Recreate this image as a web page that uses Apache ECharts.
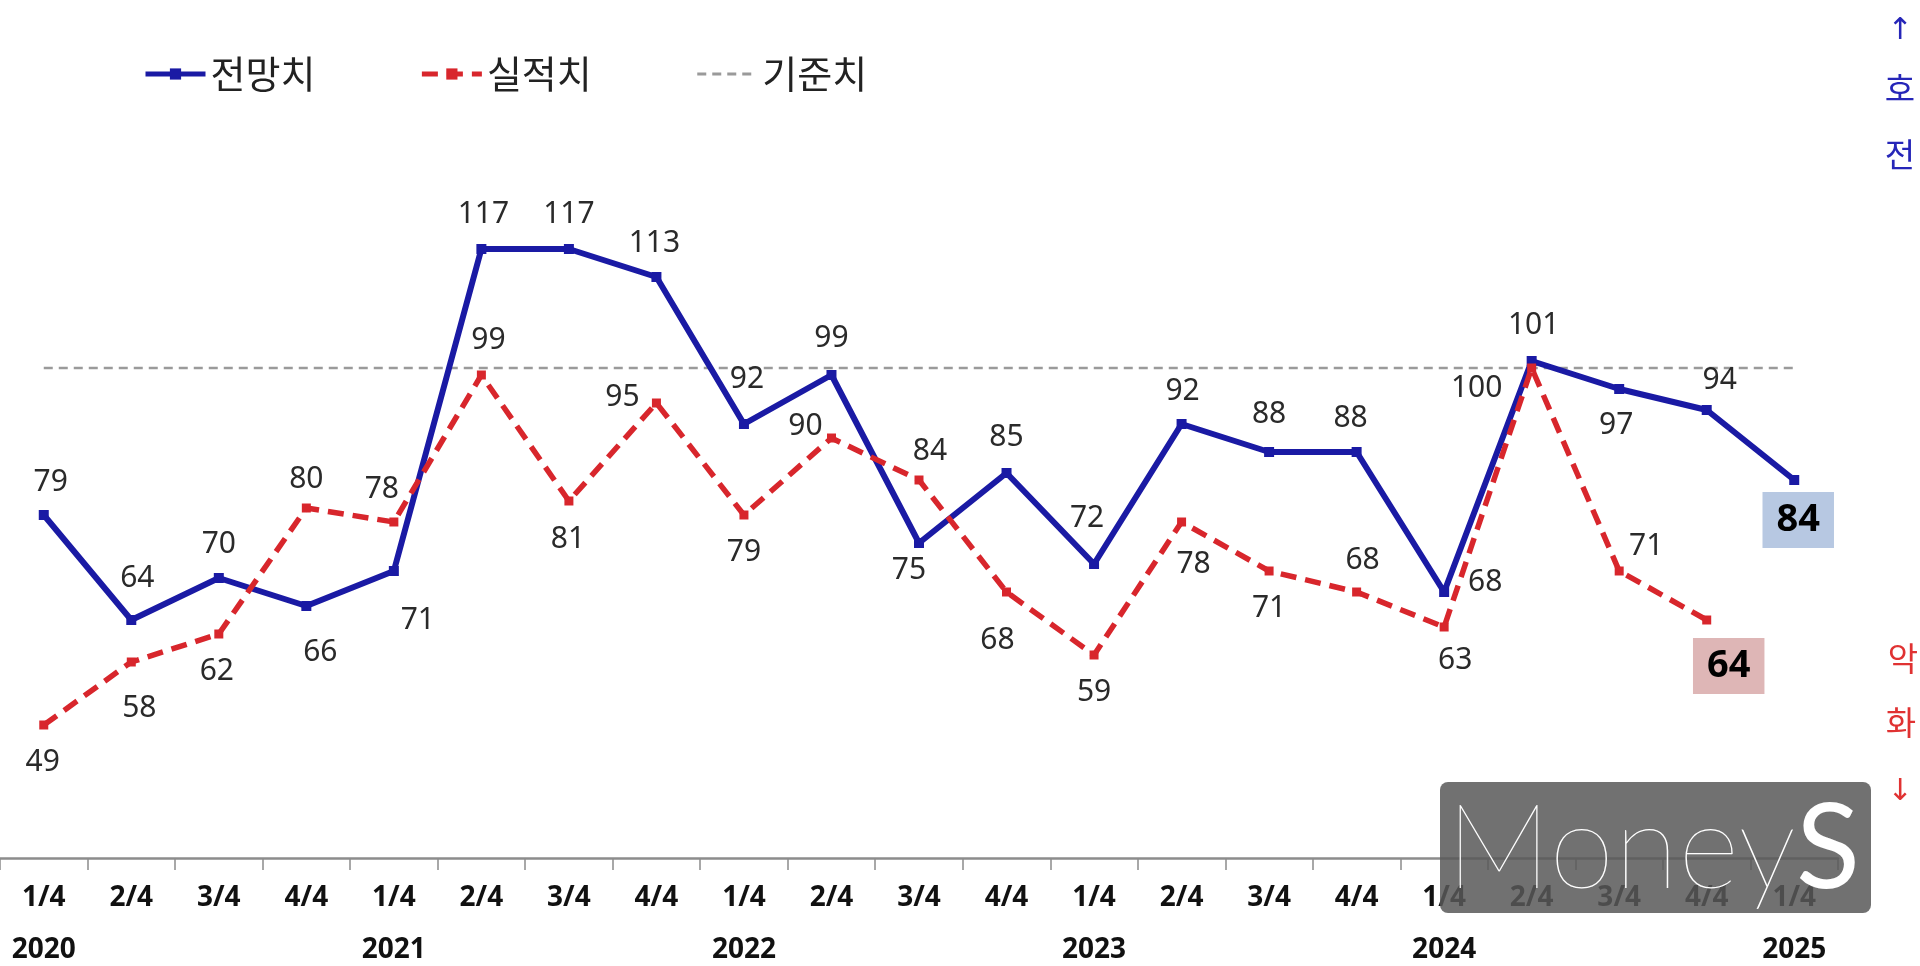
<!DOCTYPE html>
<html>
<head>
<meta charset="utf-8">
<script src="https://cdn.jsdelivr.net/npm/echarts@6/dist/echarts.min.js"></script>
<style>
html, body { margin: 0; padding: 0; background: #fff; }
#main { width: 1920px; height: 966px; }
</style>
</head>
<body>
<div id="main"></div>
<script>
// 분기 / 연도
var quarters = ['1/4', '2/4', '3/4', '4/4', '1/4', '2/4', '3/4', '4/4', '1/4', '2/4', '3/4',
    '4/4', '1/4', '2/4', '3/4', '4/4', '1/4', '2/4', '3/4', '4/4', '1/4'];
var years = ['2020', '', '', '', '2021', '', '', '', '2022', '', '', '',
    '2023', '', '', '', '2024', '', '', '', '2025'];

// 전망치 / 실적치 / 기준치
var forecast = [79, 64, 70, 66, 71, 117, 117, 113, 92, 99, 75, 85, 72, 92, 88, 88, 68, 101, 97, 94, 84];
var actual = [49, 58, 62, 80, 78, 99, 81, 95, 79, 90, 84, 68, 59, 78, 71, 68, 63, 100, 71, 64];
var baseValue = 100;

// label offsets (px from point)
var forecastOffset = [[7, -33], [6, -42], [0, -34], [14, 46], [24, 49], [2, -35], [0, -35], [-2, -34],
    [3, -45], [0, -37], [-10, 27], [0, -36], [-7, -46], [1, -33], [0, -38], [-6, -34],
    [41, -10], [2, -36], [-3, 36], [13, -30], [4, 40]];
var actualOffset = [[-1, 37], [8, 46], [-2, 37], [0, -29], [-12, -33], [7, -35], [-1, 38], [-34, -6],
    [0, 37], [-26, -12], [11, -29], [-9, 48], [0, 37], [12, 42], [0, 37], [6, -32],
    [11, 33], [-55, 20], [27, -25], [22, 46]];

var blue = '#1a1aa4';
var red = '#d8262c';
var labelFont = 'Noto Sans, Noto Sans CJK KR, sans-serif';

function buildData(values, offsets, boxColor) {
    return values.map(function (v, i) {
        var item = {
            value: v,
            label: { offset: offsets[i] }
        };
        if (i === values.length - 1) {
            item.label.backgroundColor = boxColor;
            item.label.padding = [10, 14, 8, 14];
            item.label.fontSize = 38;
            item.label.fontWeight = 'bold';
            item.label.color = '#000';
        }
        return item;
    });
}

var dom = document.getElementById('main');
var myChart = echarts.init(dom);

var option = {
    animation: false,
    backgroundColor: '#fff',
    legend: {
        data: [
            { name: '전망치', lineStyle: { width: 5 } },
            { name: '실적치', lineStyle: { width: 5 } },
            { name: '기준치', itemStyle: { opacity: 0 }, lineStyle: { width: 3 } }
        ],
        left: 138,
        top: 50,
        itemWidth: 60,
        itemHeight: 14,
        itemGap: 104,
        textStyle: {
            fontFamily: 'Noto Sans CJK KR',
            fontSize: 38,
            color: '#222'
        }
    },
    grid: {
        left: -4,
        right: 82,
        top: 158,
        bottom: 108
    },
    xAxis: {
        type: 'category',
        data: quarters,
        boundaryGap: true,
        axisLine: { lineStyle: { color: '#8c8c8c', width: 2.5 } },
        axisTick: { show: true, length: 12, lineStyle: { color: '#8c8c8c', width: 1.5 } },
        axisLabel: {
            interval: 0,
            margin: 27,
            fontFamily: labelFont,
            fontSize: 28,
            fontWeight: 'bold',
            color: '#111',
            lineHeight: 26,
            formatter: function (val, idx) {
                return years[idx] ? val + '\n\n' + years[idx] : val;
            }
        },
        splitLine: { show: false }
    },
    yAxis: {
        type: 'value',
        min: 30,
        max: 130,
        show: false
    },
    series: [
        {
            name: '기준치',
            type: 'line',
            data: quarters.map(function () { return baseValue; }),
            symbol: 'none',
            silent: true,
            itemStyle: { color: '#9a9a9a' },
            lineStyle: { color: '#9a9a9a', width: 2.5, type: [9, 6] },
            z: 1
        },
        {
            name: '전망치',
            type: 'line',
            data: buildData(forecast, forecastOffset, '#b7c8e2'),
            symbol: 'rect',
            symbolSize: 10,
            itemStyle: { color: blue },
            lineStyle: { color: blue, width: 6 },
            label: {
                show: true,
                position: 'inside',
                fontFamily: labelFont,
                fontSize: 30,
                color: '#2a2a2a'
            },
            z: 2
        },
        {
            name: '실적치',
            type: 'line',
            data: buildData(actual, actualOffset, '#deb6b6'),
            symbol: 'rect',
            symbolSize: 9,
            itemStyle: { color: red },
            lineStyle: { color: red, width: 5.5, type: [16, 9] },
            label: {
                show: true,
                position: 'inside',
                fontFamily: labelFont,
                fontSize: 30,
                color: '#2a2a2a'
            },
            z: 3
        }
    ],
    graphic: [
        { type: 'text', x: 1900, y: 31, style: { text: '↑', fill: '#2626b8', font: '30px DejaVu Sans', align: 'center', verticalAlign: 'middle' } },
        { type: 'text', x: 1900, y: 88, style: { text: '호', fill: '#2626b8', font: '33px Noto Sans CJK KR', align: 'center', verticalAlign: 'middle' } },
        { type: 'text', x: 1900, y: 154, style: { text: '전', fill: '#2626b8', font: '33px Noto Sans CJK KR', align: 'center', verticalAlign: 'middle' } },
        { type: 'text', x: 1903, y: 658, style: { text: '악', fill: '#e03232', font: '33px Noto Sans CJK KR', align: 'center', verticalAlign: 'middle' } },
        { type: 'text', x: 1901, y: 722, style: { text: '화', fill: '#e03232', font: '33px Noto Sans CJK KR', align: 'center', verticalAlign: 'middle' } },
        { type: 'text', x: 1900, y: 792, style: { text: '↓', fill: '#e03232', font: '30px DejaVu Sans', align: 'center', verticalAlign: 'middle' } },
        {
            type: 'rect', z: 100,
            shape: { x: 1440, y: 782, width: 431, height: 131, r: 8 },
            style: { fill: 'rgba(88,88,88,0.85)' }
        },
        {
            type: 'text', z: 101, x: 1653, y: 850,
            style: {
                text: '{a|Money}{b|S}',
                align: 'center',
                verticalAlign: 'middle',
                fill: '#fff',
                rich: {
                    a: { fontFamily: 'Lato', fontWeight: 100, fontSize: 118, fill: '#fff' },
                    b: { fontFamily: 'Lato', fontWeight: 400, fontSize: 118, fill: '#fff' }
                }
            }
        }
    ]
};

if (option && typeof option === 'object') {
    myChart.setOption(option, true);
}
</script>
</body>
</html>
